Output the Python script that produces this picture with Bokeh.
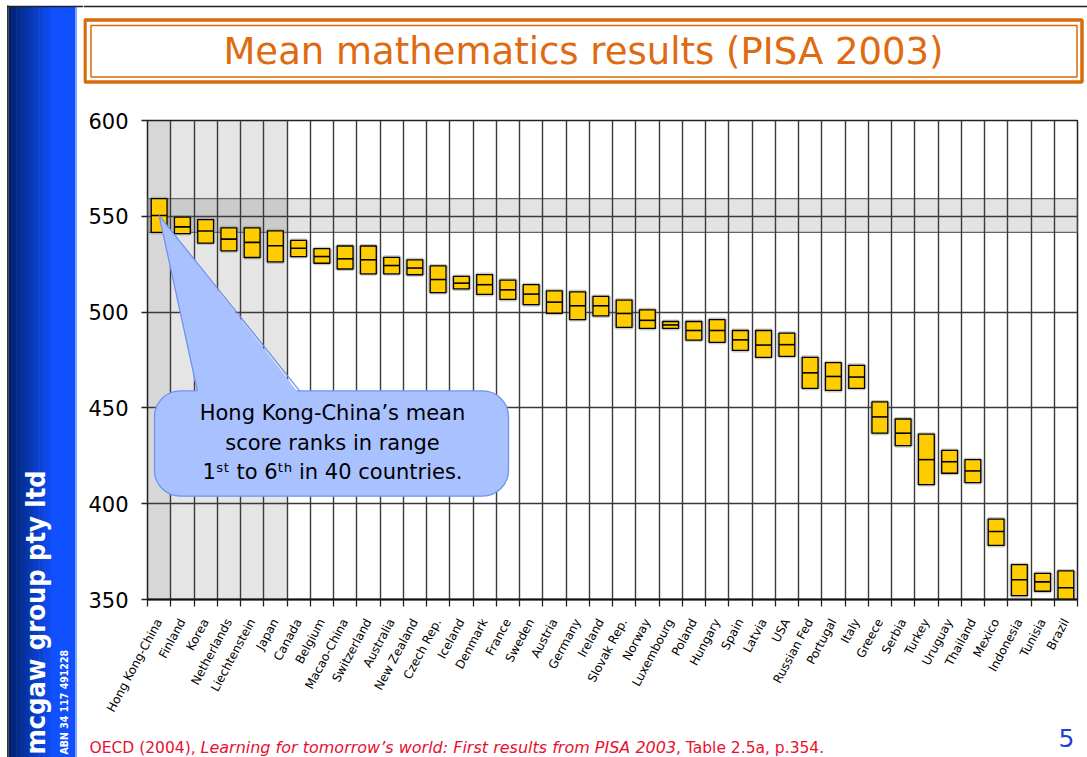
import math
from bokeh.plotting import figure
from bokeh.layouts import row, column
from bokeh.models import (Range1d, FixedTicker, BoxAnnotation, Label, Plot,
                          PolyAnnotation, Arrow, ColumnDataSource)
from bokeh.embed import file_html
from bokeh.resources import INLINE

# ---------------- data ----------------
countries = ["Hong Kong-China", "Finland", "Korea", "Netherlands", "Liechtenstein",
             "Japan", "Canada", "Belgium", "Macao-China", "Switzerland",
             "Australia", "New Zealand", "Czech Rep.", "Iceland", "Denmark",
             "France", "Sweden", "Austria", "Germany", "Ireland",
             "Slovak Rep.", "Norway", "Luxembourg", "Poland", "Hungary",
             "Spain", "Latvia", "USA", "Russian Fed", "Portugal",
             "Italy", "Greece", "Serbia", "Turkey", "Uruguay",
             "Thailand", "Mexico", "Indonesia", "Tunisia", "Brazil"]
mean_score = [550.4, 544.5, 542.3, 538.1, 536.4, 534.6, 533.3, 529.0, 527.8, 527.3,
              524.3, 523.0, 517.0, 515.1, 514.3, 511.6, 509.4, 505.2, 503.3, 503.3,
              499.3, 495.7, 493.3, 490.4, 490.4, 485.5, 482.8, 483.0, 468.3, 466.4,
              466.1, 445.3, 436.8, 423.0, 421.9, 417.1, 385.5, 360.3, 359.2, 356.1]
ci_low = [541.6, 541.0, 536.0, 532.0, 528.5, 526.2, 529.0, 525.5, 522.5, 520.0,
          520.0, 519.5, 510.2, 512.1, 509.2, 506.6, 503.9, 499.4, 496.1, 498.0,
          492.0, 491.5, 491.5, 485.4, 484.2, 480.0, 476.4, 476.9, 460.2, 459.1,
          460.2, 436.8, 430.3, 410.0, 415.9, 411.0, 378.2, 352.0, 354.3, 346.6]
ci_high = [559.2, 549.6, 548.3, 544.0, 544.0, 542.4, 537.4, 533.1, 534.5, 534.5,
           528.6, 527.3, 524.1, 518.6, 519.6, 516.7, 514.3, 511.1, 510.6, 508.2,
           506.3, 501.2, 495.1, 495.1, 496.1, 490.4, 490.4, 489.0, 476.4, 473.6,
           472.2, 453.1, 444.2, 436.3, 427.8, 423.0, 392.0, 368.2, 363.6, 364.9]
y_ticks = [350, 400, 450, 500, 550, 600]
rank_best, rank_worst = 1, 6          # Hong Kong-China rank range

title_text = "Mean mathematics results (PISA 2003)"
callout_lines = ["Hong Kong-China\u2019s mean",
                 "score ranks in range",
                 "1\u02e2\u1d57 to 6\u1d57\u02b0 in 40 countries."]
source_parts = ["OECD (2004),",
                "Learning for tomorrow\u2019s world: First results from PISA 2003",
                ", Table 2.5a, p.354."]
company = "mcgaw group pty ltd"
abn = "ABN 34 117 491228"
page_no = "5"

FONT = "DejaVu Sans"
NARROW = "DejaVu Sans Condensed, Liberation Sans, sans-serif"
PAGE_W, PAGE_H = 1087, 757
SIDE_W = 83
TITLE_H = 100
FOOT_H = 37
HAS_FRAME_ALIGN = "frame_align" in Plot.properties()


def deco_figure(x0, x1, y0, y1):
    """A figure whose frame fills it, with page-pixel coordinates (y down)."""
    w, h = x1 - x0, y1 - y0
    f = figure(width=w, height=h, frame_width=w, frame_height=h,
               x_range=Range1d(x0, x1), y_range=Range1d(y1, y0),
               output_backend="svg", toolbar_location=None,
               x_axis_location=None, y_axis_location=None,
               min_border=0)
    f.grid.visible = False
    f.outline_line_color = None
    f.background_fill_color = "white"
    f.border_fill_color = "white"
    if HAS_FRAME_ALIGN:
        f.frame_align = False
    return f


def box(f, l, r, t, b, **kw):
    kw.setdefault("fill_alpha", 1.0)
    kw.setdefault("line_alpha", 1.0)
    f.add_layout(BoxAnnotation(left=l, right=r, top=t, bottom=b, **kw))


# ---------------- sidebar ----------------
side = deco_figure(0, SIDE_W, 0, PAGE_H)
c0 = (0, 34, 110)
c1 = (16, 80, 255)
steps = 18
gx0, gx1 = 8.0, 54.0
for i in range(steps):
    t = i / (steps - 1)
    col = "#%02x%02x%02x" % tuple(int(round(a + (b - a) * t)) for a, b in zip(c0, c1))
    box(side, gx0 + (gx1 - gx0) * i / steps, gx0 + (gx1 - gx0) * (i + 1) / steps + 0.6,
        6, PAGE_H, fill_color=col, line_color=None)
box(side, gx1, 75, 6, PAGE_H, fill_color="#1050ff", line_color=None)
box(side, 75, 76.5, 6, PAGE_H, fill_color="#7aa6ff", line_color=None)
box(side, 6.5, 8.2, 5, PAGE_H, fill_color="#333333", line_color=None)
box(side, 6.5, SIDE_W, 5.2, 6.8, fill_color="#222222", line_color=None)
side.add_layout(Label(x=35, y=754, text=company, angle=math.pi / 2,
                      text_align="left", text_baseline="middle",
                      text_font=NARROW, text_font_style="bold",
                      text_font_size="27px", text_color="white"))
side.add_layout(Label(x=63, y=754, text=abn, angle=math.pi / 2,
                      text_align="left", text_baseline="middle",
                      text_font=NARROW, text_font_style="bold",
                      text_font_size="10.5px", text_color="white"))

# ---------------- title ----------------
top = deco_figure(SIDE_W, PAGE_W, 0, TITLE_H)
box(top, SIDE_W, PAGE_W, 5.2, 6.8, fill_color="#222222", line_color=None)
box(top, 84.5, 1081.5, 19.5, 81.5, fill_color=None, line_color="#d86a0a", line_width=3.5)
box(top, 90.5, 1076.5, 25, 76.5, fill_color=None, line_color="#d86a0a", line_width=1.5)
top.add_layout(Label(x=583, y=51, text=title_text, text_align="center",
                     text_baseline="middle", text_font=FONT,
                     text_font_size="37px", text_color="#e06a10"))

# ---------------- chart ----------------
n = len(countries)
x_pos = list(range(1, n + 1))
x_bound = [i + 0.5 for i in range(n + 1)]
CH_TOP, CH_BOT = TITLE_H, PAGE_H - FOOT_H

p = figure(width=PAGE_W - SIDE_W, height=CH_BOT - CH_TOP,
           x_range=Range1d(0.5, n + 0.5), y_range=Range1d(350, 600),
           output_backend="svg", toolbar_location=None,
           min_border_left=147 - SIDE_W, min_border_right=PAGE_W - 1077,
           min_border_top=120 - CH_TOP, min_border_bottom=CH_BOT - 602)
if HAS_FRAME_ALIGN:
    p.frame_align = False
p.background_fill_color = "white"
p.border_fill_color = "white"
p.outline_line_color = "#222222"
p.outline_line_width = 1.5
p.extra_x_ranges = {"px": Range1d(147, 1077)}
p.extra_y_ranges = {"py": Range1d(602, 120)}

xa = p.xaxis[0]
xa.ticker = FixedTicker(ticks=x_pos, minor_ticks=x_bound)
xa.major_label_overrides = {i: c for i, c in zip(x_pos, countries)}
xa.major_label_orientation = 1.08
xa.major_tick_out = 0
xa.major_tick_in = 0
xa.minor_tick_out = 7
xa.minor_tick_in = 0
xa.minor_tick_line_color = "#222222"
xa.minor_tick_line_width = 1.3
xa.axis_line_color = "#111111"
xa.axis_line_width = 1.8
xa.major_label_standoff = 13
xa.major_label_text_font = FONT
xa.major_label_text_font_size = "12px"
xa.major_label_text_color = "black"

ya = p.yaxis[0]
ya.ticker = FixedTicker(ticks=y_ticks)
ya.minor_tick_line_color = None
ya.major_tick_out = 6
ya.major_tick_in = 0
ya.major_tick_line_color = "#222222"
ya.major_tick_line_width = 1.3
ya.axis_line_color = None
ya.major_label_standoff = 13
ya.major_label_text_font = FONT
ya.major_label_text_font_size = "21px"
ya.major_label_text_color = "black"

p.xgrid.ticker = FixedTicker(ticks=x_bound)
p.xgrid.grid_line_color = "#3a3a3a"
p.xgrid.grid_line_width = 1.4
p.ygrid.grid_line_color = "#3a3a3a"
p.ygrid.grid_line_width = 1.4

# shaded rank range and Hong Kong confidence band
p.add_layout(BoxAnnotation(left=rank_best - 0.5, right=rank_worst + 0.5,
                           fill_color="black", fill_alpha=0.10, line_color=None, level="image"))
p.add_layout(BoxAnnotation(left=x_pos[0] - 0.5, right=x_pos[0] + 0.5,
                           fill_color="black", fill_alpha=0.06, line_color=None, level="image"))
p.add_layout(BoxAnnotation(bottom=ci_low[0], top=ci_high[0],
                           fill_color="black", fill_alpha=0.11,
                           line_color="#666666", line_alpha=1.0, line_width=1.2, level="image"))

src = ColumnDataSource(dict(x=x_pos, low=ci_low, high=ci_high, mean=mean_score))
p.vbar(x="x", bottom="low", top="high", width=0.68, source=src,
       fill_color=None, line_color="#888888", line_alpha=0.45, line_width=4)
p.vbar(x="x", bottom="low", top="high", width=0.68, source=src,
       fill_color="#ffcc00", line_color="black", line_width=1.3)
p.dash(x="x", y="mean", size=16, source=src, line_color="black", line_width=1.6)

# callout
callout_fill = "#a9c2ff"
callout_line = "#6f93f0"
tail_x = [x_pos[0], 2.65, 7.05]
tail_y = [mean_score[0], 457.0, 457.0]
p.add_layout(BoxAnnotation(left=154, right=508, top=392, bottom=498,
                           x_range_name="px", y_range_name="py",
                           fill_color=callout_fill, fill_alpha=1.0,
                           line_color=callout_line, line_alpha=1.0,
                           line_width=1.3, border_radius=26))
p.add_layout(PolyAnnotation(xs=tail_x, ys=tail_y, fill_color=callout_fill, fill_alpha=1.0,
                            line_color=None))
for xe in (tail_x[1], tail_x[2]):
    p.add_layout(Arrow(end=None, x_start=tail_x[0], y_start=tail_y[0], x_end=xe, y_end=458.8,
                       line_color=callout_line, line_width=1.3))
for ly, line in zip((414, 445, 474), callout_lines):
    p.add_layout(Label(x=332, y=ly, text=line, x_range_name="px", y_range_name="py",
                       text_align="center", text_baseline="middle",
                       text_font=FONT, text_font_size="21px", text_color="black"))

# ---------------- footer ----------------
foot = deco_figure(SIDE_W, PAGE_W, CH_BOT, PAGE_H)
red = "#e8102e"
foot.add_layout(Label(x=89, y=747, text=source_parts[0], text_align="left",
                      text_baseline="alphabetic", text_font=FONT,
                      text_font_size="15.5px", text_color=red))
foot.add_layout(Label(x=200, y=747, text=source_parts[1], text_align="left",
                      text_baseline="alphabetic", text_font=FONT, text_font_style="italic",
                      text_font_size="16px", text_color=red))
foot.add_layout(Label(x=675.5, y=747, text=source_parts[2], text_align="left",
                      text_baseline="alphabetic", text_font=FONT,
                      text_font_size="15.5px", text_color=red))
foot.add_layout(Label(x=1066, y=737, text=page_no, text_align="center",
                      text_baseline="middle", text_font=FONT,
                      text_font_size="25px", text_color="#1f3fe0"))

layout = row(side, column(top, p, foot))
open("out.html", "w").write(file_html(layout, INLINE))
